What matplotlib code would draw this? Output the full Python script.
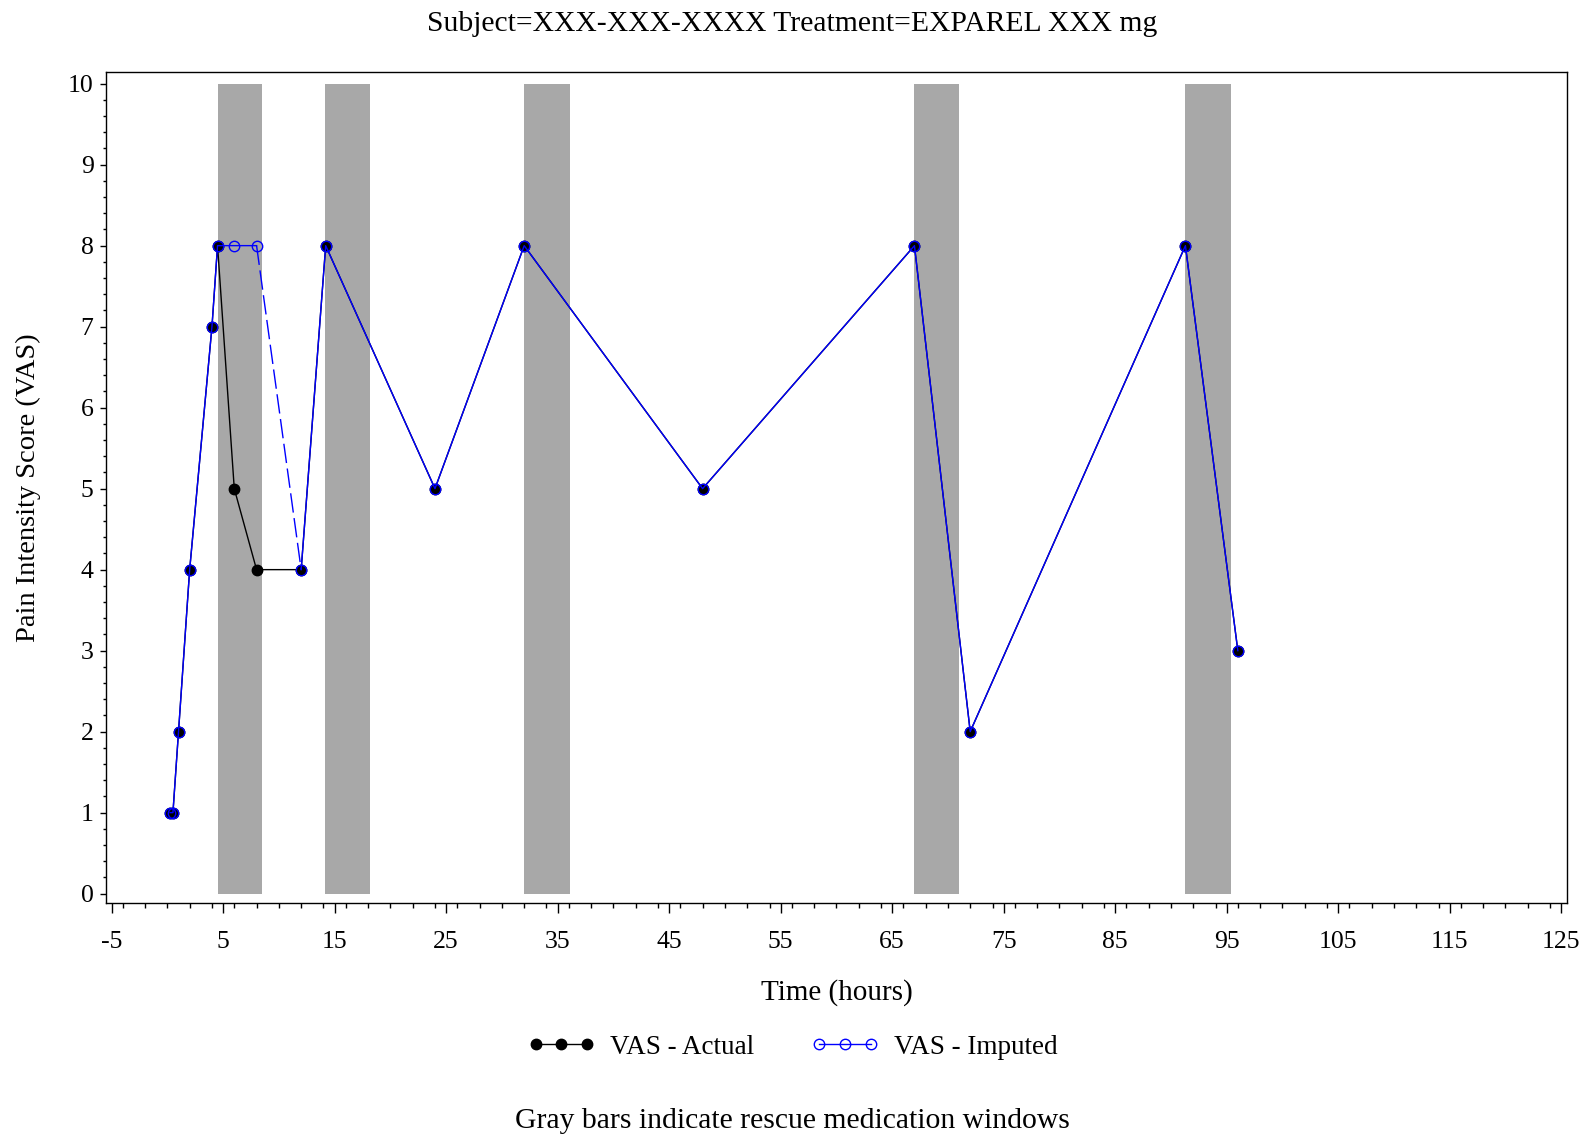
import matplotlib
matplotlib.use("Agg")
import matplotlib.pyplot as plt
from matplotlib.ticker import MultipleLocator

# VAS scores for the subject (time in hours)
times = [0.25, 0.5, 1, 2, 4, 4.5, 6, 8, 12, 14.2, 24, 32, 48, 67, 72, 91.3, 96]
vas_actual = [1, 1, 2, 4, 7, 8, 5, 4, 4, 8, 5, 8, 5, 8, 2, 8, 3]
vas_imputed = [1, 1, 2, 4, 7, 8, 8, 8, 4, 8, 5, 8, 5, 8, 2, 8, 3]
dashed_seg = (7, 8)           # imputed segment drawn dashed

# rescue medication windows (start, end) in hours
rescue_start = [4.5, 14.1, 32.0, 67.0, 91.3]
rescue_end = [8.5, 18.2, 36.1, 71.0, 95.4]

plt.rcParams["font.family"] = ["Liberation Serif", "DejaVu Serif"]
plt.rcParams["axes.unicode_minus"] = False

fig = plt.figure(figsize=(15.85, 11.35), dpi=100)
ax = fig.add_axes([0.0669, 0.2048, 0.9216, 0.7315])

for s, e in zip(rescue_start, rescue_end):
    ax.fill_between([s, e], 0, 10, color="#a8a8a8", lw=0, zorder=1)

ax.plot(times, vas_actual, "-o", color="black", lw=1, ms=7.5,
        mfc="black", mec="black", zorder=3, label="VAS - Actual")

i0, i1 = dashed_seg
kw = dict(color="blue", lw=1, zorder=4)
ax.plot(times[:i0 + 1], vas_imputed[:i0 + 1], "-", **kw)
ax.plot(times[i0:i1 + 1], vas_imputed[i0:i1 + 1], linestyle=(0, (14, 4)), **kw)
ax.plot(times[i1:], vas_imputed[i1:], "-", **kw)
# open blue circles on every point; filled black shows through on actual ones
ax.plot(times, vas_imputed, "o", ms=7.5, mfc="none", mec="blue", mew=1, zorder=5)

ax.set_xlim(-5.5, 125.5)
ax.set_ylim(-0.11, 10.14)
ax.set_xticks(range(-5, 126, 10))
ax.xaxis.set_minor_locator(MultipleLocator(2))
ax.yaxis.set_major_locator(MultipleLocator(1))
ax.yaxis.set_minor_locator(MultipleLocator(0.2))
ax.tick_params(axis="x", which="major", length=7.2, width=1, labelsize=18.5, pad=13)
ax.tick_params(axis="x", which="minor", length=3.3, width=1)
ax.tick_params(axis="y", which="major", length=4, width=1, labelsize=18.5, pad=5)
ax.tick_params(axis="y", which="minor", length=2.2, width=1)
for sp in ax.spines.values():
    sp.set_linewidth(1)

ax.set_xlabel("Time (hours)", fontsize=21, labelpad=19)
ax.set_ylabel("Pain Intensity Score (VAS)", fontsize=20.5, labelpad=19)

fig.text(0.5, 0.979, "Subject=XXX-XXX-XXXX Treatment=EXPAREL XXX mg",
         ha="center", va="center", fontsize=21.3)

h_act = plt.Line2D([], [], color="black", lw=1, marker="o", ms=7.5, mfc="black", mec="black")
h_imp = plt.Line2D([], [], color="blue", lw=1, marker="o", ms=7.5, mfc="none", mec="blue")
fig.legend([h_act, h_imp], ["VAS - Actual", "VAS - Imputed"], loc="center",
           bbox_to_anchor=(0.5, 0.0775), ncol=2, frameon=False, fontsize=19.5,
           numpoints=3, handlelength=2.5, columnspacing=2.1, handletextpad=0.55)

fig.text(0.5, 0.0125, "Gray bars indicate rescue medication windows",
         ha="center", va="center", fontsize=21.3)

fig.savefig("out.png", dpi=100)
